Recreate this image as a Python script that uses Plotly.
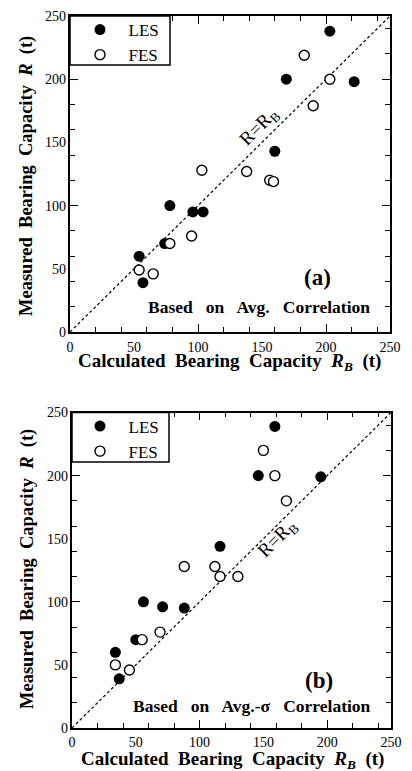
import plotly.graph_objects as go

# ---------------- data ----------------
les_a_x = [203, 169, 222, 160, 78, 96, 104, 74, 54, 57]
les_a_y = [238, 200, 198, 143, 100, 95, 95, 70, 60, 39]
fes_a_x = [183, 203, 190, 103, 138, 156, 159, 78, 95, 54, 65]
fes_a_y = [219, 200, 179, 128, 127, 120, 119, 70, 76, 49, 46]

les_b_x = [159, 146, 195, 116, 56, 71, 88, 50, 34, 37]
les_b_y = [239, 200, 199, 144, 100, 96, 95, 70, 60, 39]
fes_b_x = [150, 159, 168, 88, 112, 116, 130, 69, 55, 34, 45]
fes_b_y = [220, 200, 180, 128, 128, 120, 120, 76, 70, 50, 46]

line_xy = [0, 250]
axis_range = [0, 250]
tick_vals = [0, 20, 40, 60, 80, 120, 140, 160, 180, 220, 240]
long_tick_vals = [100, 200]
label_vals = [0, 50, 100, 150, 200, 250]
label_text = ["0", "50", "100", "150", "200", "250"]
series_names = ["LES", "FES"]

W, H = 412, 771
SERIF = "Liberation Serif, Times New Roman, serif"
NB = "\u00a0 "          # wide word gap for titles
NB2 = "\u00a0\u00a0 "   # wider word gap for the panel notes

def px(xp):
    return xp / W

def py(yp):
    return 1 - yp / H

fig = go.Figure()

# diagonal R = R_B lines
fig.add_trace(go.Scatter(x=line_xy, y=line_xy, mode="lines", xaxis="x", yaxis="y",
                         line=dict(color="black", width=1.2, dash="3px,2.5px"),
                         showlegend=False, hoverinfo="skip"))
fig.add_trace(go.Scatter(x=line_xy, y=line_xy, mode="lines", xaxis="x2", yaxis="y2",
                         line=dict(color="black", width=1.2, dash="3px,2.5px"),
                         showlegend=False, hoverinfo="skip"))

filled = dict(symbol="circle", size=11, color="black", line=dict(width=0))
opened = dict(symbol="circle", size=10, color="white", line=dict(color="black", width=1.4))
pad = "\u00a0\u00a0"

fig.add_trace(go.Scatter(x=les_a_x, y=les_a_y, mode="markers", name=pad + series_names[0],
                         xaxis="x3", yaxis="y3", marker=filled, legend="legend"))
fig.add_trace(go.Scatter(x=fes_a_x, y=fes_a_y, mode="markers", name=pad + series_names[1],
                         xaxis="x3", yaxis="y3", marker=opened, legend="legend"))
fig.add_trace(go.Scatter(x=les_b_x, y=les_b_y, mode="markers", name=pad + series_names[0],
                         xaxis="x4", yaxis="y4", marker=filled, legend="legend2"))
fig.add_trace(go.Scatter(x=fes_b_x, y=fes_b_y, mode="markers", name=pad + series_names[1],
                         xaxis="x4", yaxis="y4", marker=opened, legend="legend2"))

main_ax = dict(range=axis_range, tickmode="array", tickvals=tick_vals, ticks="inside",
               ticklen=5, tickwidth=1.2, tickcolor="black", mirror="allticks",
               minor=dict(tickmode="array", tickvals=long_tick_vals, ticks="inside",
                          ticklen=8, tickwidth=1.2, tickcolor="black", showgrid=False),
               showline=True, linewidth=1.5, linecolor="black", showticklabels=False,
               showgrid=False, zeroline=False, fixedrange=True, automargin=False)
lab_ax = dict(range=axis_range, tickmode="array", tickvals=label_vals, ticktext=label_text,
              ticks="", showline=False, showgrid=False, zeroline=False, automargin=False,
              tickfont=dict(family=SERIF, size=14, color="black"), fixedrange=True)

dom_xa = [px(70), px(390)]
dom_ya = [py(332), py(16)]
dom_xb = [px(72), px(391)]
dom_yb = [py(728), py(412.5)]

fig.update_layout(
    template="none",
    width=W, height=H, margin=dict(l=0, r=0, t=0, b=0, pad=0), autosize=False,
    paper_bgcolor="white", plot_bgcolor="rgba(0,0,0,0)",
    xaxis=dict(main_ax, domain=dom_xa, anchor="y"),
    yaxis=dict(main_ax, domain=dom_ya, anchor="x"),
    xaxis2=dict(main_ax, domain=dom_xb, anchor="y2"),
    yaxis2=dict(main_ax, domain=dom_yb, anchor="x2"),
    xaxis3=dict(lab_ax, overlaying="x", anchor="y", side="bottom", ticklabelstandoff=5),
    yaxis3=dict(lab_ax, overlaying="y", anchor="x", side="left", ticklabelstandoff=3),
    xaxis4=dict(lab_ax, overlaying="x2", anchor="y2", side="bottom", ticklabelstandoff=4),
    yaxis4=dict(lab_ax, overlaying="y2", anchor="x2", side="left", ticklabelstandoff=3),
    legend=dict(x=px(80), y=py(12), xanchor="left", yanchor="top",
                bgcolor="rgba(0,0,0,0)", borderwidth=0,
                font=dict(family=SERIF, size=17, color="black"), tracegroupgap=0),
    legend2=dict(x=px(80), y=py(408.5), xanchor="left", yanchor="top",
                 bgcolor="rgba(0,0,0,0)", borderwidth=0,
                 font=dict(family=SERIF, size=17, color="black"), tracegroupgap=0),
    showlegend=True,
)

# legend boxes
fig.add_shape(type="rect", xref="paper", yref="paper", x0=px(70), x1=px(170), y0=py(65), y1=py(16),
              line=dict(color="black", width=1.5), fillcolor="white", layer="above")
fig.add_shape(type="rect", xref="paper", yref="paper", x0=px(72), x1=px(169), y0=py(462), y1=py(412.5),
              line=dict(color="black", width=1.5), fillcolor="white", layer="above")

ann = []
ann.append(dict(text="R=R<sub>B</sub>", x=148, y=162, xref="x", yref="y", textangle=-45,
                font=dict(family=SERIF, size=19, color="black"), showarrow=False))
ann.append(dict(text="R=R<sub>B</sub>", x=161, y=150, xref="x2", yref="y2", textangle=-45,
                font=dict(family=SERIF, size=19, color="black"), showarrow=False))
ann.append(dict(text="<b>(a)</b>", x=193, y=43.5, xref="x", yref="y",
                font=dict(family=SERIF, size=23, color="black"), showarrow=False))
ann.append(dict(text="<b>(b)</b>", x=193.6, y=38, xref="x2", yref="y2",
                font=dict(family=SERIF, size=23, color="black"), showarrow=False))
ann.append(dict(text="<b>" + NB2.join(["Based", "on", "Avg.", "Correlation"]) + "</b>",
                x=148, y=20, xref="x", yref="y",
                font=dict(family=SERIF, size=17.5, color="black"), showarrow=False))
ann.append(dict(text="<b>" + NB2.join(["Based", "on", "Avg.-\u03c3", "Correlation"]) + "</b>",
                x=141, y=17.4, xref="x2", yref="y2",
                font=dict(family=SERIF, size=17.5, color="black"), showarrow=False))

ytitle = "<b>" + NB.join(["Measured", "Bearing", "Capacity", "<i>R</i>", "(t)"]) + "</b>"
xtitle = "<b>" + NB.join(["Calculated", "Bearing", "Capacity", "<i>R</i><sub><i>B</i></sub>", "(t)"]) + "</b>"
for (xp, yp) in [(27, 176), (27, 569)]:
    ann.append(dict(text=ytitle, x=px(xp), y=py(yp), xref="paper", yref="paper", textangle=-90,
                    xanchor="center", yanchor="middle",
                    font=dict(family=SERIF, size=18.5, color="black"), showarrow=False))
for (xp, yp) in [(229, 362), (232, 760)]:
    ann.append(dict(text=xtitle, x=px(xp), y=py(yp), xref="paper", yref="paper",
                    xanchor="center", yanchor="middle",
                    font=dict(family=SERIF, size=19, color="black"), showarrow=False))

fig.update_layout(annotations=ann)
fig.write_html("out.html")
